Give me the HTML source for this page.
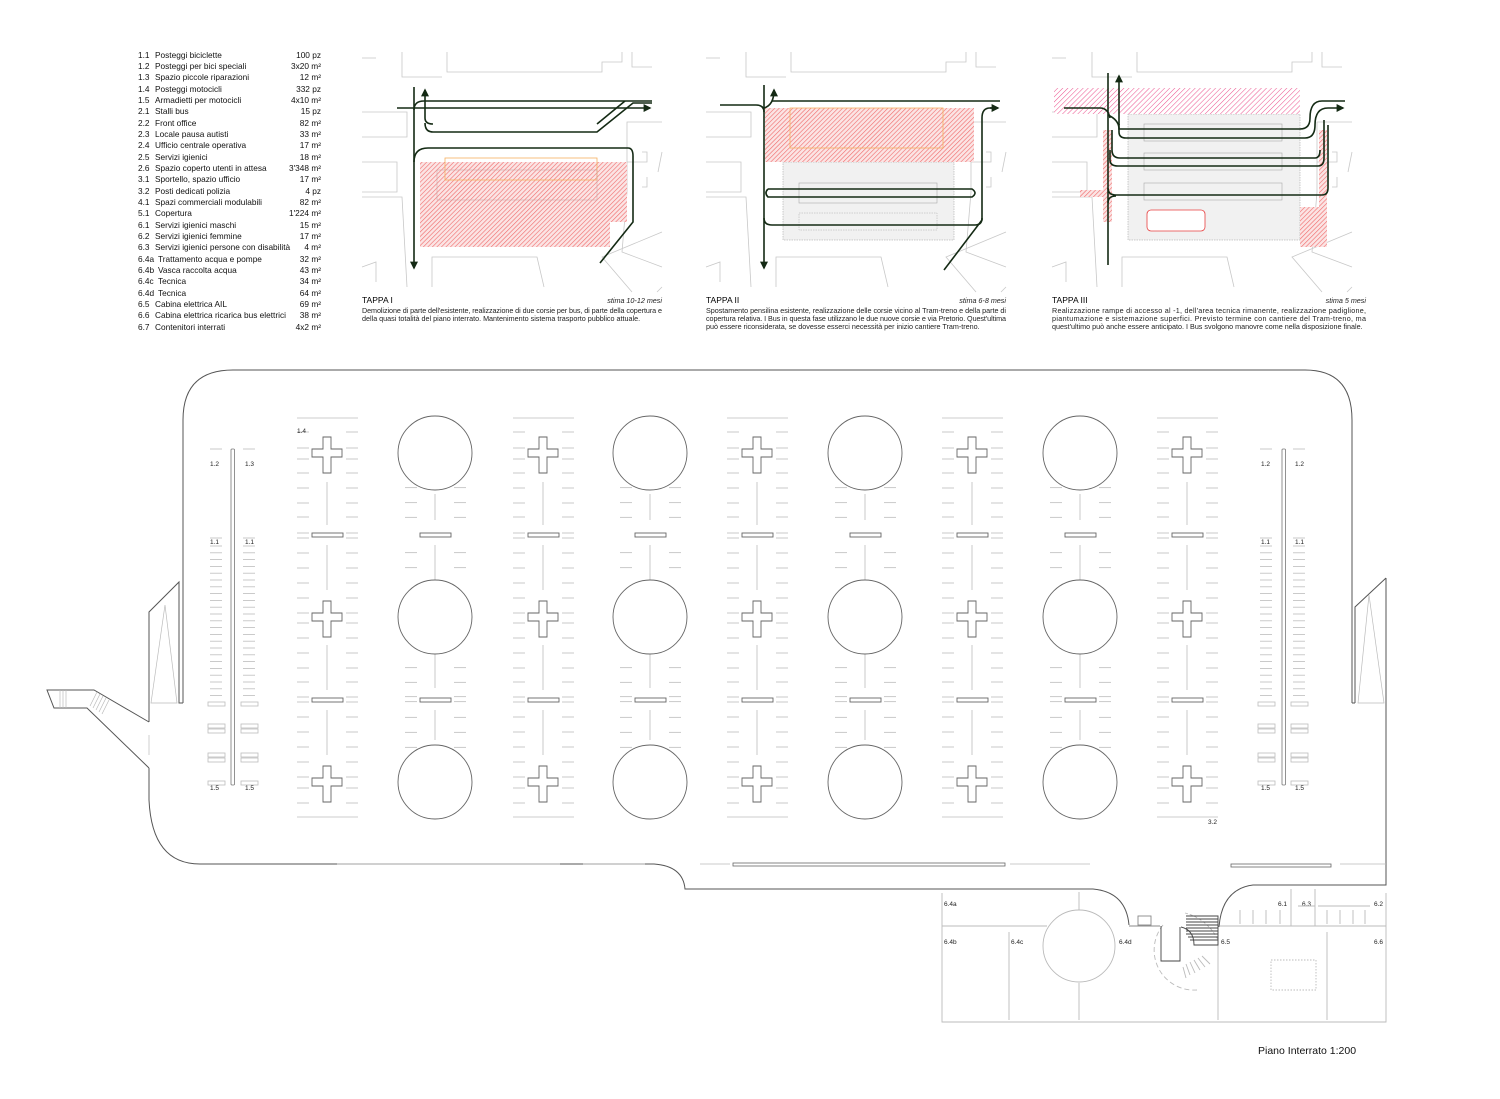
<!DOCTYPE html>
<html><head><meta charset="utf-8">
<style>
html,body{margin:0;padding:0;background:#fff;}
svg{display:block;font-family:"Liberation Sans",sans-serif;}
.lg{font-size:8.3px;fill:#111;}
.cap{font-size:7.2px;fill:#222;}
.lb{font-size:6.5px;fill:#222;}
</style></head><body>
<svg id="s" width="1500" height="1099" viewBox="0 0 1500 1099" xmlns="http://www.w3.org/2000/svg">
<defs>
<pattern id="h1" width="3.2" height="3.2" patternUnits="userSpaceOnUse" patternTransform="rotate(45)">
<rect width="3.2" height="3.2" fill="#fbe4e4"/><line x1="0" y1="0" x2="0" y2="3.2" stroke="#f06a6a" stroke-width="1.2"/></pattern>
<pattern id="h2" width="3.6" height="3.6" patternUnits="userSpaceOnUse" patternTransform="rotate(45)">
<rect width="3.6" height="3.6" fill="#fff"/><line x1="0" y1="0" x2="0" y2="3.6" stroke="#ec4f8c" stroke-width="1"/></pattern>
<marker id="ar" viewBox="0 0 10 10" refX="8" refY="5" markerWidth="5" markerHeight="5" orient="auto"><path d="M0,0 L10,5 L0,10 z" fill="#142a14"/></marker>
</defs>

<!-- LEGEND -->
<g class="lg">
<text x="138" y="58">1.1</text><text x="155" y="58">Posteggi biciclette</text><text x="321" y="58" text-anchor="end">100 pz</text>
<text x="138" y="69">1.2</text><text x="155" y="69">Posteggi per bici speciali</text><text x="321" y="69" text-anchor="end">3x20 m²</text>
<text x="138" y="80">1.3</text><text x="155" y="80">Spazio piccole riparazioni</text><text x="321" y="80" text-anchor="end">12 m²</text>
<text x="138" y="92">1.4</text><text x="155" y="92">Posteggi motocicli</text><text x="321" y="92" text-anchor="end">332 pz</text>
<text x="138" y="103">1.5</text><text x="155" y="103">Armadietti per motocicli</text><text x="321" y="103" text-anchor="end">4x10 m²</text>
<text x="138" y="114">2.1</text><text x="155" y="114">Stalli bus</text><text x="321" y="114" text-anchor="end">15 pz</text>
<text x="138" y="126">2.2</text><text x="155" y="126">Front office</text><text x="321" y="126" text-anchor="end">82 m²</text>
<text x="138" y="137">2.3</text><text x="155" y="137">Locale pausa autisti</text><text x="321" y="137" text-anchor="end">33 m²</text>
<text x="138" y="148">2.4</text><text x="155" y="148">Ufficio centrale operativa</text><text x="321" y="148" text-anchor="end">17 m²</text>
<text x="138" y="160">2.5</text><text x="155" y="160">Servizi igienici</text><text x="321" y="160" text-anchor="end">18 m²</text>
<text x="138" y="171">2.6</text><text x="155" y="171">Spazio coperto utenti in attesa</text><text x="321" y="171" text-anchor="end">3'348 m²</text>
<text x="138" y="182">3.1</text><text x="155" y="182">Sportello, spazio ufficio</text><text x="321" y="182" text-anchor="end">17 m²</text>
<text x="138" y="194">3.2</text><text x="155" y="194">Posti dedicati polizia</text><text x="321" y="194" text-anchor="end">4 pz</text>
<text x="138" y="205">4.1</text><text x="155" y="205">Spazi commerciali modulabili</text><text x="321" y="205" text-anchor="end">82 m²</text>
<text x="138" y="216">5.1</text><text x="155" y="216">Copertura</text><text x="321" y="216" text-anchor="end">1'224 m²</text>
<text x="138" y="228">6.1</text><text x="155" y="228">Servizi igienici maschi</text><text x="321" y="228" text-anchor="end">15 m²</text>
<text x="138" y="239">6.2</text><text x="155" y="239">Servizi igienici femmine</text><text x="321" y="239" text-anchor="end">17 m²</text>
<text x="138" y="250">6.3</text><text x="155" y="250">Servizi igienici persone con disabilità</text><text x="321" y="250" text-anchor="end">4 m²</text>
<text x="138" y="262">6.4a</text><text x="158" y="262">Trattamento acqua e pompe</text><text x="321" y="262" text-anchor="end">32 m²</text>
<text x="138" y="273">6.4b</text><text x="158" y="273">Vasca raccolta acqua</text><text x="321" y="273" text-anchor="end">43 m²</text>
<text x="138" y="284">6.4c</text><text x="158" y="284">Tecnica</text><text x="321" y="284" text-anchor="end">34 m²</text>
<text x="138" y="296">6.4d</text><text x="158" y="296">Tecnica</text><text x="321" y="296" text-anchor="end">64 m²</text>
<text x="138" y="307">6.5</text><text x="155" y="307">Cabina elettrica AIL</text><text x="321" y="307" text-anchor="end">69 m²</text>
<text x="138" y="318">6.6</text><text x="155" y="318">Cabina elettrica ricarica bus elettrici</text><text x="321" y="318" text-anchor="end">38 m²</text>
<text x="138" y="330">6.7</text><text x="155" y="330">Contenitori interrati</text><text x="321" y="330" text-anchor="end">4x2 m²</text>
</g>

<g id="ctx1" fill="none" stroke="#c8c8c8" stroke-width="0.8"></g>

<!-- TAPPA I -->
<g>
<path d="M420,162 H627 V222 H610 V247 H420 Z" fill="url(#h1)"/>
<rect x="445" y="158" width="152" height="22" fill="none" stroke="#f5b060" stroke-width="0.8"/>
<rect x="437" y="170" width="160" height="30" fill="none" stroke="#c8a0a0" stroke-width="0.5"/>
<g fill="none" stroke="#142a14" stroke-width="1.6">
<path d="M414,87 V268" marker-end="url(#ar)"/>
<path d="M397,108 H650" marker-end="url(#ar)"/>
<path d="M425,123 Q425,132 433,132 H597 L633,103 H652"/>
<path d="M425,118 V90" marker-end="url(#ar)"/>
<path d="M652,101 H424 Q414,101 414,110"/>
<path d="M425,118 Q425,124 433,124"/>
<path d="M597,124 L625,101"/>
<path d="M414,162 Q414,148 428,148 H628 Q633,148 633,156 V222 L600,263"/>
</g>
<text x="362" y="303" style="font-size:8.5px">TAPPA I</text>
<text x="662" y="303" text-anchor="end" class="cap" font-style="italic">stima 10-12 mesi</text>
<text x="362" y="313" class="cap" textLength="300" lengthAdjust="spacing">Demolizione di parte dell'esistente, realizzazione di due corsie per bus, di parte della copertura e</text>
<text x="362" y="321" class="cap">della quasi totalità del piano interrato. Mantenimento sistema trasporto pubblico attuale.</text>
</g>

<!-- TAPPA II -->
<g>
<rect x="783" y="162" width="171" height="78" fill="#f1f1f1" stroke="#999" stroke-width="0.5" stroke-dasharray="1.5,1"/>
<rect x="765" y="108" width="209" height="54" fill="url(#h1)"/>
<rect x="790" y="108" width="153" height="40" fill="none" stroke="#f5b060" stroke-width="0.8"/>
<rect x="799" y="183" width="138" height="20" fill="none" stroke="#aaa" stroke-width="0.6"/>
<rect x="799" y="213" width="138" height="17" fill="none" stroke="#aaa" stroke-width="0.5" stroke-dasharray="1.5,1"/>
<g fill="none" stroke="#142a14" stroke-width="1.6">
<path d="M764,85 V268" marker-end="url(#ar)"/>
<path d="M720,105 H756 Q764,105 764,112"/>
<path d="M764,108 Q774,105 774,90" marker-end="url(#ar)"/>
<path d="M772,101 H1000"/>
<path d="M995,108 H990 Q982,108 982,118"/>
<path d="M990,108 H998" marker-end="url(#ar)"/>
<path d="M982,118 V220 L944,270"/>
<path d="M768,189 H972 Q978,193 972,197 H768 Q764,193 768,189"/>
<path d="M764,218 Q764,225 772,225 H975 Q982,225 982,218"/>
</g>
<text x="706" y="303" style="font-size:8.5px">TAPPA II</text>
<text x="1006" y="303" text-anchor="end" class="cap" font-style="italic">stima 6-8 mesi</text>
<text x="706" y="313" class="cap" textLength="300" lengthAdjust="spacing">Spostamento pensilina esistente, realizzazione delle corsie vicino al Tram-treno e della parte di</text>
<text x="706" y="321" class="cap" textLength="300" lengthAdjust="spacing">copertura relativa. I Bus in questa fase utilizzano le due nuove corsie e via Pretorio. Quest'ultima</text>
<text x="706" y="329" class="cap">può essere riconsiderata, se dovesse esserci necessità per inizio cantiere Tram-treno.</text>
</g>

<!-- TAPPA III -->
<g>
<rect x="1128" y="114" width="172" height="126" fill="#f1f1f1" stroke="#999" stroke-width="0.5" stroke-dasharray="1.5,1"/>
<rect x="1054" y="88" width="246" height="26" fill="url(#h2)"/>
<rect x="1103" y="130" width="9" height="92" fill="url(#h1)"/>
<rect x="1080" y="190" width="23" height="7" fill="url(#h1)"/>
<rect x="1319" y="130" width="8" height="77" fill="url(#h1)"/>
<rect x="1300" y="207" width="27" height="40" fill="url(#h1)"/>
<rect x="1147" y="210" width="58" height="21" rx="4" fill="#fff" stroke="#e84040" stroke-width="0.8"/>
<rect x="1144" y="124" width="138" height="17" fill="none" stroke="#aaa" stroke-width="0.6"/>
<rect x="1144" y="153" width="138" height="17" fill="none" stroke="#aaa" stroke-width="0.6"/>
<rect x="1144" y="183" width="138" height="17" fill="none" stroke="#aaa" stroke-width="0.6"/>
<g fill="none" stroke="#142a14" stroke-width="1.6">
<path d="M1108,73 V265"/>
<path d="M1064,108 H1100 Q1108,108 1110,118"/>
<path d="M1119,125 V76" marker-end="url(#ar)"/>
<path d="M1108,115 Q1119,120 1119,129 H1300 Q1310,129 1310,118 Q1310,101 1322,101 H1345"/>
<path d="M1119,124 V132 Q1119,138 1126,138 H1305 Q1315,138 1315,125 Q1315,108 1328,108 H1343" marker-end="url(#ar)"/>
<path d="M1112,130 V150 Q1112,158 1120,158 H1315 Q1320,158 1320,150"/>
<path d="M1110,150 V160 Q1110,166 1118,166 H1318 Q1324,166 1324,158 V120"/>
<path d="M1108,188 Q1108,195 1116,195 H1322 Q1328,195 1328,188 V125"/>
<path d="M1108,203 Q1108,196 1116,196"/>
</g>
<text x="1052" y="303" style="font-size:8.5px">TAPPA III</text>
<text x="1366" y="303" text-anchor="end" class="cap" font-style="italic">stima 5 mesi</text>
<text x="1052" y="313" class="cap" textLength="314" lengthAdjust="spacing">Realizzazione rampe di accesso al -1, dell'area tecnica rimanente, realizzazione padiglione,</text>
<text x="1052" y="321" class="cap" textLength="314" lengthAdjust="spacing">piantumazione e sistemazione superfici. Previsto termine con cantiere del Tram-treno, ma</text>
<text x="1052" y="329" class="cap">quest'ultimo può anche essere anticipato. I Bus svolgono manovre come nella disposizione finale.</text>
</g>

<!-- MAIN PLAN OUTLINE -->
<g fill="none" stroke="#555" stroke-width="1">
<path d="M183,703 V420 Q183,370 233,370 H1305 Q1352,370 1352,420 V703"/>
<path d="M1386,578 V885 H1253 Q1222,889 1219,927"/>
<path d="M1093,889 Q1126,892 1129,925"/>
<path d="M149,768 V800 Q152,864 200,864 H654 Q683,866 685,889 H1093"/>
<path d="M149,722 V612 L179,582 V703 H183"/>
<path d="M149,722 L94,690 H47 L54,708 H87 L149,768"/>
<path d="M1355,703 V607 L1386,578"/>
<path d="M1352,703 H1355"/>
</g>
<g fill="none" stroke="#bbb" stroke-width="0.7">
<path d="M151,703 L165,605 L177,703 Z"/>
<path d="M1358,703 L1369,595 L1384,703 Z"/>
<path d="M149,735 V755"/>
<path d="M60,690 V708 M63,690 V708 M66,690 V708 M97,692 L90,706 M100,694 L93,708 M103,696 L96,710 M106,698 L99,712 M109,700 L102,714"/>
<path d="M337,864 H460 M430,864 H560 M583,864 H645 M700,864 H730 M1010,864 H1090 M1340,864 H1386"/>
</g>
<rect x="733" y="863" width="272" height="3" fill="none" stroke="#666" stroke-width="0.8"/>
<rect x="1231" y="864" width="100" height="3" fill="none" stroke="#666" stroke-width="0.8"/>

<rect x="231" y="449" width="3.5" height="336" rx="1" fill="none" stroke="#777" stroke-width="0.8"/>
<rect x="1282" y="449" width="3.5" height="336" rx="1" fill="none" stroke="#777" stroke-width="0.8"/>

<g id="gen" stroke="#bdbdbd" stroke-width="0.8" fill="none"></g>
<g id="fix" fill="#fff" stroke="#666" stroke-width="0.9"></g>

<g class="lb">
<text x="297" y="433">1.4</text>
<text x="210" y="466">1.2</text><text x="245" y="466">1.3</text>
<text x="210" y="544">1.1</text><text x="245" y="544">1.1</text>
<text x="210" y="790">1.5</text><text x="245" y="790">1.5</text>
<text x="1261" y="466">1.2</text><text x="1295" y="466">1.2</text>
<text x="1261" y="544">1.1</text><text x="1295" y="544">1.1</text>
<text x="1261" y="790">1.5</text><text x="1295" y="790">1.5</text>
<text x="1208" y="824">3.2</text>
<text x="944" y="906">6.4a</text>
<text x="944" y="944">6.4b</text>
<text x="1011" y="944">6.4c</text>
<text x="1119" y="944">6.4d</text>
<text x="1221" y="944">6.5</text>
<text x="1374" y="944">6.6</text>
<text x="1278" y="906">6.1</text>
<text x="1302" y="906">6.3</text>
<text x="1374" y="906">6.2</text>
</g>

<g fill="none" stroke="#bbb" stroke-width="0.9">
<path d="M942,893 V1022 H1386 V893"/>
<path d="M942,926 H1047 M1009,932 V1020 M1079,892 V910 M1079,983 V1020 M1218,930 V1020 M1327,932 V1020 M1220,926 H1386 M1291,889 V926 M1315,889 V926 M1315,906 H1298 M1318,906 H1370"/>
<path d="M1240,910 V924 M1253,910 V924 M1266,910 V924 M1280,910 V924 M1327,910 V924 M1340,910 V924 M1353,910 V924 M1365,910 V924"/>
<circle cx="1079" cy="946" r="36"/>
<path d="M1129,926 H1160" stroke="#888"/>
<rect x="1138" y="916" width="13" height="9" stroke="#888"/>
<path d="M1185,913 A50,50 0 0 1 1218,940" stroke-dasharray="3,2"/>
<path d="M1163,925 A40,40 0 0 0 1197,990" stroke-dasharray="5,3"/>
<path d="M1186,964 L1190,975 M1190,962 L1195,973 M1194,960 L1200,970 M1198,958 L1205,967 M1202,956 L1210,964 M1183,967 L1186,978"/>
<rect x="1271" y="960" width="45" height="30" stroke-dasharray="1.5,1.5"/>
</g>
<g fill="none" stroke="#444" stroke-width="0.9">
<path d="M1161,926 V961 H1180 V927"/>
<path d="M1181,927 Q1194,930 1194,945 H1218 V916 H1186"/>
<path d="M1186,919 H1218 M1186,922 H1218 M1186,925 H1218 M1186,928 H1218 M1186,931 H1218 M1186,934 H1218 M1188,937 H1218 M1190,940 H1218"/>
</g>
<text x="1258" y="1054" style="font-size:10.5px;fill:#111">Piano Interrato 1:200</text>
</svg>
<script>
(function(){
var NS="http://www.w3.org/2000/svg";
function el(p,t,a){var e=document.createElementNS(NS,t);for(var k in a)e.setAttribute(k,a[k]);p.appendChild(e);return e;}
var g=document.getElementById("gen"), f=document.getElementById("fix"), c=document.getElementById("ctx1");
var dy=[72,88,99,113,128,143,157,173,178,193,208,223,238,253,263,278,293,308,322,337,342,357,372,387,402,417,428,443];
var crossX=[327,543,757,972,1187], circX=[435,650,865,1080];
crossX.forEach(function(x){
 el(g,"line",{x1:x-30,y1:418,x2:x+31,y2:418});
 el(g,"line",{x1:x-30,y1:817,x2:x+31,y2:817});
 dy.forEach(function(d){var y=360+d;el(g,"line",{x1:x-30,y1:y,x2:x-18,y2:y});el(g,"line",{x1:x+19,y1:y,x2:x+31,y2:y});});
 [[482,525],[545,590],[645,690],[710,755]].forEach(function(s){el(g,"line",{x1:x,y1:s[0],x2:x,y2:s[1]});});
 [453,617,782].forEach(function(cy){el(f,"path",{d:"M"+(x-15)+","+(cy-4)+"h11v-12h8v12h11v8h-11v16h-8v-16h-11z"});});
 [535,700].forEach(function(y){el(f,"rect",{x:x-15,y:y-2,width:31,height:4});});
});
circX.forEach(function(x){
 [383,428,472,578,623,668,713,758,790,833,878,923,967,1010,1025,1072,1117,1162].forEach(function(d){var y=360+d/3;
  if(Math.abs(y-617)<36)return;
  el(g,"line",{x1:x-30,y1:y,x2:x-18,y2:y});el(g,"line",{x1:x+19,y1:y,x2:x+31,y2:y});});
 [[494,520],[545,588],[646,688],[710,740]].forEach(function(s){el(g,"line",{x1:x,y1:s[0],x2:x,y2:s[1]});});
 [535,700].forEach(function(y){el(f,"rect",{x:x-15,y:y-2,width:31,height:4});});
 [453,617,782].forEach(function(cy){el(f,"circle",{cx:x,cy:cy,r:37});});
});
[[210,243],[1260,1293]].forEach(function(p){
 p.forEach(function(x){
  el(g,"line",{x1:x,y1:449,x2:x+12,y2:449});
  el(g,"line",{x1:x,y1:538,x2:x+12,y2:538});
  for(var y=546;y<=698;y+=6.8)el(g,"line",{x1:x,y1:y,x2:x+12,y2:y});
  el(g,"rect",{x:x-2,y:702,width:17,height:4});
  el(g,"rect",{x:x-2,y:724,width:17,height:4});el(g,"rect",{x:x-2,y:729,width:17,height:4});
  el(g,"rect",{x:x-2,y:753,width:17,height:4});el(g,"rect",{x:x-2,y:758,width:17,height:4});
  el(g,"rect",{x:x-2,y:781,width:17,height:4});
 });
});
[362,706,1052].forEach(function(px){
 var d=["M0,6 H14","M0,60 H45 V85 H0","M0,110 H35 V140 H0","M0,145 H40 L45,235","M40,0 V25 H80","M85,0 V20 H240 V10 H260 V0","M270,0 V15 H290","M300,70 H265 V140 L260,200 L300,215","M270,240 L240,205 L300,180","M265,110 H285 V100 H280 M285,125 V135 H280","M300,100 L296,120","M70,235 V205 H175 L182,235","M0,215 L14,210 V230","M295,240 L300,235"];
 d.forEach(function(s){el(c,"path",{d:s,transform:"translate("+px+",52)"});});
});
})();
</script>
</body></html>
